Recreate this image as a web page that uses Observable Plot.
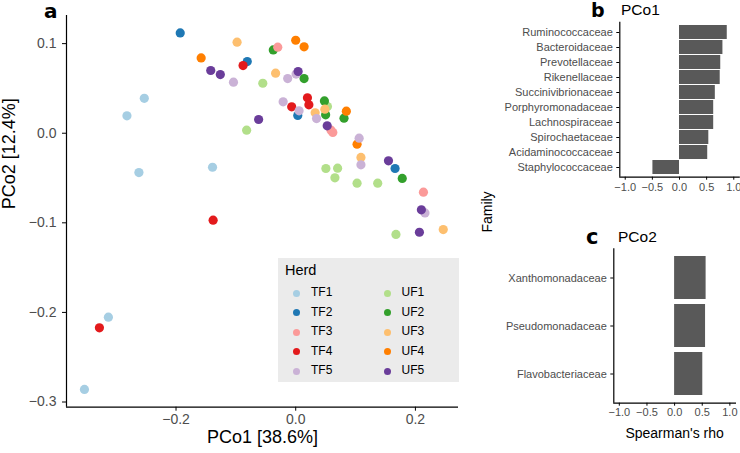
<!DOCTYPE html>
<html><head><meta charset="utf-8">
<script src="https://cdn.jsdelivr.net/npm/d3@7"></script>
<script src="https://cdn.jsdelivr.net/npm/@observablehq/plot@0.6"></script>
<style>
body{margin:0;background:#fff;font-family:"Liberation Sans",Arial,sans-serif;}
#root{position:relative;width:740px;height:453px;overflow:hidden;background:#fff;}
.abs{position:absolute;white-space:nowrap;}
svg [aria-label$="tick label"]{fill:#4d4d4d;}
</style></head><body><div id="root"></div>
<script>
// ---- data ----
const herds = ["TF1","TF2","TF3","TF4","TF5","UF1","UF2","UF3","UF4","UF5"];
const herdColors = ["#a6cee3","#1f78b4","#fb9a99","#e31a1c","#cab2d6","#b2df8a","#33a02c","#fdbf6f","#ff7f00","#6a3d9a"];
// [PCo1, PCo2] per sample
const TF1 = [[-0.253,0.039],[-0.282,0.0194],[-0.262,-0.0439],[-0.139,-0.038],[-0.313,-0.2053],[-0.353,-0.286]];
const TF2 = [[-0.193,0.112],[-0.081,0.080],[0.0034,0.0198],[0.166,-0.0394]];
const TF3 = [[-0.030,0.096],[0.059,0.0034],[0.062,0.0008],[0.2134,-0.0658]];
const TF4 = [[-0.088,0.0755],[-0.0067,0.0295],[0.0196,0.0395],[0.022,0.0317],[-0.138,-0.097],[-0.328,-0.2172]];
const TF5 = [[-0.104,0.057],[-0.0134,0.061],[0.0006,0.066],[-0.021,0.035],[0.0056,0.025],[0.0348,0.0164],[0.106,-0.0055],[0.109,-0.0353],[0.216,-0.089]];
const UF1 = [[-0.055,0.0558],[-0.082,0.0034],[0.053,0.0298],[0.0504,-0.0394],[0.070,-0.039],[0.0655,-0.0498],[0.1025,-0.0558],[0.137,-0.0558],[0.1675,-0.113]];
const UF2 = [[-0.0375,0.093],[0.014,0.061],[0.048,0.036],[0.050,0.0205],[0.0807,0.0168],[0.178,-0.0505]];
const UF3 = [[-0.098,0.1016],[-0.0336,0.067],[0.0487,0.0268],[0.0325,0.0228],[0.109,-0.027],[0.2465,-0.1075]];
const UF4 = [[-0.158,0.084],[0.000,0.1038],[0.014,0.0964],[0.0846,0.0246],[0.1025,-0.0122]];
const UF5 = [[-0.142,0.070],[-0.126,0.0655],[-0.062,0.0153],[0.004,0.0689],[0.0526,0.0083],[0.155,-0.0308],[0.210,-0.0855],[0.2067,-0.1105]];
const drawOrder = ["UF1","UF2","TF2","TF1","TF3","TF4","UF3","UF4","TF5","UF5"];
const pcoTicksX = [-0.2,0,0.2];
const pcoTicksY = [-0.3,-0.2,-0.1,0,0.1];

const families1 = ["Ruminococcaceae","Bacteroidaceae","Prevotellaceae","Rikenellaceae","Succinivibrionaceae","Porphyromonadaceae","Lachnospiraceae","Spirochaetaceae","Acidaminococcaceae","Staphylococcaceae"];
const rho1 = [0.88,0.80,0.76,0.75,0.66,0.63,0.63,0.54,0.52,-0.49];
const families2 = ["Xanthomonadaceae","Pseudomonadaceae","Flavobacteriaceae"];
const rho2 = [0.57,0.56,0.51];
const rhoTicks = [-1,-0.5,0,0.5,1];

// ---- build ----
const samples = {TF1,TF2,TF3,TF4,TF5,UF1,UF2,UF3,UF4,UF5};
const pts = drawOrder.flatMap(h => samples[h].map(([x,y]) => ({herd:h, x, y})));
const root = document.getElementById("root");
const fmt = d3.format(".1f");

function place(el, left, top){ el.style.position="absolute"; el.style.left=left+"px"; el.style.top=top+"px"; root.appendChild(el); return el; }

const xDom = [-0.383,0.272], yDom = [-0.3058,0.1314];
const main = Plot.plot({
  width: 470, height: 453,
  marginLeft: 66, marginTop: 15, marginRight: 12, marginBottom: 46.3,
  style: {fontFamily:"Liberation Sans, Arial, sans-serif", fontSize:"14px", color:"#000", background:"transparent"},
  x: {domain: xDom, ticks: pcoTicksX, tickFormat: fmt, tickSize: 4, tickPadding: 3, label: null},
  y: {domain: yDom, ticks: pcoTicksY, tickFormat: fmt, tickSize: 4, tickPadding: 6, label: null},
  color: {domain: herds, range: herdColors},
  marks: [
    Plot.ruleX([xDom[0]], {stroke:"#000", strokeWidth:1.2}),
    Plot.ruleY([yDom[0]], {stroke:"#000", strokeWidth:1.2}),
    Plot.dot(pts, {x:"x", y:"y", fill:"herd", r:4.6}),
    Plot.text(["PCo1 [38.6%]"], {frameAnchor:"bottom", dy:36, fontSize:18, fill:"#000"}),
    Plot.text(["PCo2 [12.4%]"], {frameAnchor:"left", dx:-57, dy:-2, rotate:-90, fontSize:18, fill:"#000"})
  ]
});
place(main, 0, 0);

// legend
const leg = document.createElement("div");
Object.assign(leg.style, {width:"181px", height:"124px", background:"#ebebeb", fontFamily:"Liberation Sans, Arial, sans-serif"});
place(leg, 278, 258);
const lt = document.createElement("div"); lt.className="abs"; lt.textContent="Herd";
Object.assign(lt.style,{left:"7px", top:"4px", fontSize:"14.5px", color:"#000"}); leg.appendChild(lt);
herds.forEach((h,i)=>{
  const col = i<5?0:1, row = i%5;
  const d = document.createElement("div"); d.className="abs";
  Object.assign(d.style,{left:(col?105.5:14.5)+"px", top:(31.5+row*19.6)+"px", width:"7px", height:"7px", borderRadius:"50%", background:herdColors[i]});
  leg.appendChild(d);
  const t = document.createElement("div"); t.className="abs"; t.textContent=h;
  Object.assign(t.style,{left:(col?123.5:33)+"px", top:(27+row*19.6)+"px", fontSize:"12px", color:"#000"});
  leg.appendChild(t);
});

// panel b
const barStyle = {fontFamily:"Liberation Sans, Arial, sans-serif", fontSize:"11px", color:"#000", background:"transparent", overflow:"visible"};
const pb = Plot.plot({
  width: 260, height: 200,
  marginLeft: 139.3, marginRight: 1.3, marginTop: 21.7, marginBottom: 23.3,
  style: barStyle,
  x: {domain:[-1.1,1.1], ticks: rhoTicks, tickFormat: fmt, tickSize: 3, tickPadding: 3, label: null},
  y: {domain: families1, paddingInner: 0.1, paddingOuter: 0.15, tickSize: 3, tickPadding: 4, label: null},
  marks: [
    Plot.barX(families1.map((f,i)=>({f, v:rho1[i]})), {x1:0, x2:"v", y:"f", fill:"#595959"}),
    Plot.ruleX([-1.1], {stroke:"#000", strokeWidth:1.2}),
    Plot.frame({anchor:"bottom", stroke:"#000", strokeWidth:1.2})
  ]
});
place(pb, 480, 0);

const pc = Plot.plot({
  width: 260, height: 228,
  marginLeft: 133.3, marginRight: 5.1, marginTop: 23.3, marginBottom: 50.3,
  style: barStyle,
  x: {domain:[-1.1,1.1], ticks: rhoTicks, tickFormat: fmt, tickSize: 3, tickPadding: 2, label: null},
  y: {domain: families2, paddingInner: 0.1, paddingOuter: 0.15, tickSize: 3, tickPadding: 4, label: null},
  marks: [
    Plot.barX(families2.map((f,i)=>({f, v:rho2[i]})), {x1:0, x2:"v", y:"f", fill:"#595959"}),
    Plot.ruleX([-1.1], {stroke:"#000", strokeWidth:1.2}),
    Plot.frame({anchor:"bottom", stroke:"#000", strokeWidth:1.2}),
    Plot.text(["Spearman's rho"], {frameAnchor:"bottom", dy:35, fontSize:14, fill:"#000"})
  ]
});
place(pc, 480, 225);

function label(text, left, top, css){ const d=document.createElement("div"); d.className="abs"; d.textContent=text; Object.assign(d.style, {lineHeight:"1"}, css); place(d,left,top); return d; }
label("a", 44, 1, {fontFamily:"DejaVu Sans, sans-serif", fontWeight:"bold", fontSize:"20px"});
label("b", 591, 1, {fontFamily:"DejaVu Sans, sans-serif", fontWeight:"bold", fontSize:"19px"});
label("PCo1", 621, 2, {fontSize:"15.5px"});
label("c", 586, 227, {fontFamily:"DejaVu Sans, sans-serif", fontWeight:"bold", fontSize:"21px"});
label("PCo2", 618, 229, {fontSize:"15.5px"});
const fam = label("Family", 487, 212, {fontSize:"14px"});
fam.style.transform = "translate(-50%,-50%) rotate(-90deg)";
</script></body></html>
